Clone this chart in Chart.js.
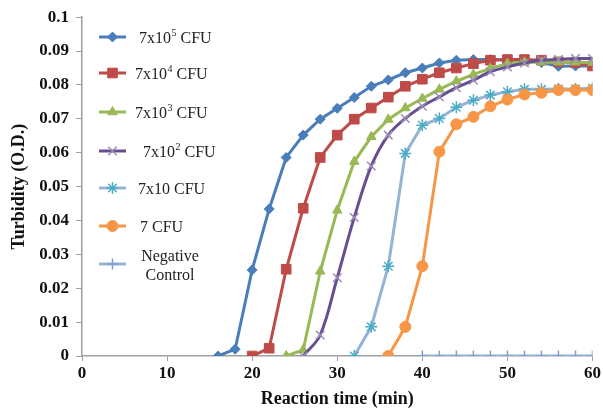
<!DOCTYPE html>
<html>
<head>
<meta charset="utf-8">
<script src="https://cdn.jsdelivr.net/npm/chart.js@4"></script>
<style>
html,body{margin:0;padding:0;background:#fff;}
#wrap{width:603px;height:414px;position:relative;}
</style>
</head>
<body>
<div id="wrap"><canvas id="c" width="603" height="414"></canvas></div>
<script>
// ---- data ----
const seriesNames = ["7x10^5 CFU", "7x10^4 CFU", "7x10^3 CFU", "7x10^2 CFU", "7x10 CFU", "7 CFU", "Negative Control"];

const timeE5 = [16,18,20,22,24,26,28,30,32,34,36,38,40,42,44,46,48,50,52,54,56,58,60];
const odE5   = [0,0.002,0.0254,0.0434,0.0586,0.0652,0.0699,0.0731,0.0763,0.0796,0.0815,0.0836,0.085,0.0865,0.0873,0.0875,0.0875,0.0874,0.0872,0.0866,0.0855,0.0856,0.0856];

const timeE4 = [20,22,24,26,28,30,32,34,36,38,40,42,44,46,48,50,52,54,56,58,60];
const odE4   = [0,0.0023,0.0256,0.0436,0.0586,0.0652,0.0699,0.0732,0.0764,0.0796,0.0817,0.0836,0.085,0.0863,0.0873,0.0875,0.0875,0.0873,0.0868,0.0866,0.0856];

const timeE3 = [24,26,28,30,32,34,36,38,40,42,44,46,48,50,52,54,56,58,60];
const odE3   = [0,0.0018,0.025,0.043,0.0574,0.0647,0.0698,0.0732,0.076,0.0787,0.0811,0.0831,0.0849,0.0863,0.0867,0.0867,0.0867,0.0867,0.0866];

const timeE2 = [26,28,30,32,34,36,38,40,42,44,46,48,50,52,54,56,58,60];
const odE2   = [0,0.0062,0.0231,0.0409,0.0561,0.0652,0.0701,0.0737,0.0765,0.0792,0.0814,0.0839,0.0853,0.0865,0.0873,0.0875,0.0878,0.0878];

const timeE1 = [32,34,36,38,40,42,44,46,48,50,52,54,56,58,60];
const odE1   = [0,0.0086,0.0265,0.0598,0.0681,0.0701,0.0734,0.0755,0.077,0.078,0.0787,0.0787,0.0788,0.0788,0.079];

const timeE0 = [36,38,40,42,44,46,48,50,52,54,56,58,60];
const odE0   = [0,0.0086,0.0265,0.0603,0.0684,0.0706,0.0737,0.0757,0.0772,0.0777,0.0785,0.0785,0.0785];

const timeNeg = [40,42,44,46,48,50,52,54,56,58,60];
const odNeg   = [0,0,0,0,0,0,0,0,0,0,0];

const xTicks = [0,10,20,30,40,50,60];
const yTicks = [0,0.01,0.02,0.03,0.04,0.05,0.06,0.07,0.08,0.09,0.1];

// ---- styling ----
const styles = [
  {line:'#4a7ebb', mark:'#4a7ebb', ps:'rectRot', r:5, tension:0},
  {line:'#be4b48', mark:'#be4b48', ps:'rect', r:6.8, tension:0},
  {line:'#98b954', mark:'#98b954', ps:'triangle', r:5.5, tension:0},
  {line:'#664f91', mark:'#9a8cb4', ps:'crossRot', r:6, tension:0.35},
  {line:'#95b3d7', mark:'#4bacc6', ps:'star', r:6, tension:0},
  {line:'#f79646', mark:'#f79646', ps:'circle', r:5.5, tension:0},
  {line:'#95b3d7', mark:'#7f9fcf', ps:'cross', r:5.5, tension:0}
];
const times = [timeE5,timeE4,timeE3,timeE2,timeE1,timeE0,timeNeg];
const values = [odE5,odE4,odE3,odE2,odE1,odE0,odNeg];

const datasets = seriesNames.map((name,i)=>({
  label: name,
  data: times[i].map((t,k)=>({x:t, y:values[i][k]})),
  borderColor: styles[i].line,
  backgroundColor: styles[i].mark,
  pointBackgroundColor: styles[i].mark,
  pointBorderColor: styles[i].mark,
  pointStyle: styles[i].ps,
  pointRadius: styles[i].r,
  pointBorderWidth: (styles[i].ps==='crossRot'||styles[i].ps==='cross'||styles[i].ps==='star') ? 1.5 : 1,
  borderWidth: 3,
  tension: styles[i].tension,
  cubicInterpolationMode: 'default',
  order: 10 - i,
  fill: false
}));

const serif = "'Liberation Serif','Times New Roman',serif";

const legendItems = [
  {base:'7x10', sup:'5', rest:' CFU', x:139, y:38},
  {base:'7x10', sup:'4', rest:' CFU', x:135, y:74},
  {base:'7x10', sup:'3', rest:' CFU', x:135, y:113},
  {base:'7x10', sup:'2', rest:' CFU', x:143, y:152},
  {base:'7x10 CFU', sup:'', rest:'', x:138, y:189},
  {base:'7 CFU', sup:'', rest:'', x:140, y:227},
  {lines:['Negative','Control'], cx:170, y:265}
];

const legendPlugin = {
  id: 'insideLegend',
  afterDraw(chart){
    const ctx = chart.ctx;
    ctx.save();
    legendItems.forEach((it,i)=>{
      const st = styles[i];
      const ly = it.y - 1;
      ctx.strokeStyle = st.line;
      ctx.lineWidth = 3;
      ctx.beginPath(); ctx.moveTo(99, ly); ctx.lineTo(126, ly); ctx.stroke();
      ctx.fillStyle = st.mark; ctx.strokeStyle = st.mark;
      ctx.lineWidth = (st.ps==='crossRot'||st.ps==='cross'||st.ps==='star') ? 1.5 : 1;
      if (Chart.helpers && Chart.helpers.drawPoint) {
        Chart.helpers.drawPoint(ctx, {pointStyle: st.ps, radius: st.r, rotation: 0, borderWidth: ctx.lineWidth}, 112.5, ly);
      }
      ctx.fillStyle = '#222';
      ctx.textBaseline = 'middle';
      if (it.lines) {
        ctx.font = '16px ' + serif;
        ctx.textAlign = 'center';
        ctx.fillText(it.lines[0], it.cx, it.y - 8);
        ctx.fillText(it.lines[1], it.cx, it.y + 11);
      } else {
        ctx.textAlign = 'left';
        ctx.font = '16px ' + serif;
        let x = it.x;
        ctx.fillText(it.base, x, it.y + 1);
        x += ctx.measureText(it.base).width;
        if (it.sup) {
          ctx.font = '10px ' + serif;
          ctx.fillText(it.sup, x + 0.5, it.y - 5);
          x += ctx.measureText(it.sup).width + 0.5;
          ctx.font = '16px ' + serif;
        }
        if (it.rest) ctx.fillText(it.rest, x, it.y + 1);
      }
    });
    ctx.restore();
  }
};

new Chart(document.getElementById('c'), {
  type: 'line',
  data: { datasets },
  options: {
    responsive: false,
    animation: false,
    layout: { padding: { top: 17, right: 10, left: 0, bottom: 0 } },
    plugins: { legend: { display: false }, tooltip: { enabled: false } },
    scales: {
      x: {
        type: 'linear', min: 0, max: 60,
        afterBuildTicks(s){ s.ticks = xTicks.map(v=>({value:v})); },
        afterFit(s){ s.height = 58; },
        grid: { drawOnChartArea: false, drawTicks: true, tickLength: 5, color: '#a0a0a0', lineWidth: 1 },
        border: { color: '#a0a0a0', width: 1.5 },
        ticks: { color: '#111', font: { family: serif, size: 17, weight: 'bold' }, padding: 2, maxRotation: 0 },
        title: { display: true, text: 'Reaction time (min)', color: '#111', font: { family: serif, size: 18, weight: 'bold' }, padding: { top: 0, bottom: 4 } }
      },
      y: {
        type: 'linear', min: 0, max: 0.1,
        afterBuildTicks(s){ s.ticks = yTicks.map(v=>({value:v})); },
        afterFit(s){ s.width = 82; },
        grid: { drawOnChartArea: false, drawTicks: true, tickLength: 6, color: '#a0a0a0', lineWidth: 1 },
        border: { color: '#a0a0a0', width: 1.5 },
        ticks: { color: '#111', font: { family: serif, size: 17, weight: 'bold' }, padding: 7,
          callback: v => (v === 0 ? '0' : (Math.round(v*100)/100).toString()) },
        title: { display: true, text: 'Turbidity (O.D.)', color: '#111', font: { family: serif, size: 18, weight: 'bold' }, padding: { top: 9, bottom: 0 } }
      }
    }
  },
  plugins: [legendPlugin]
});
</script>
</body>
</html>
